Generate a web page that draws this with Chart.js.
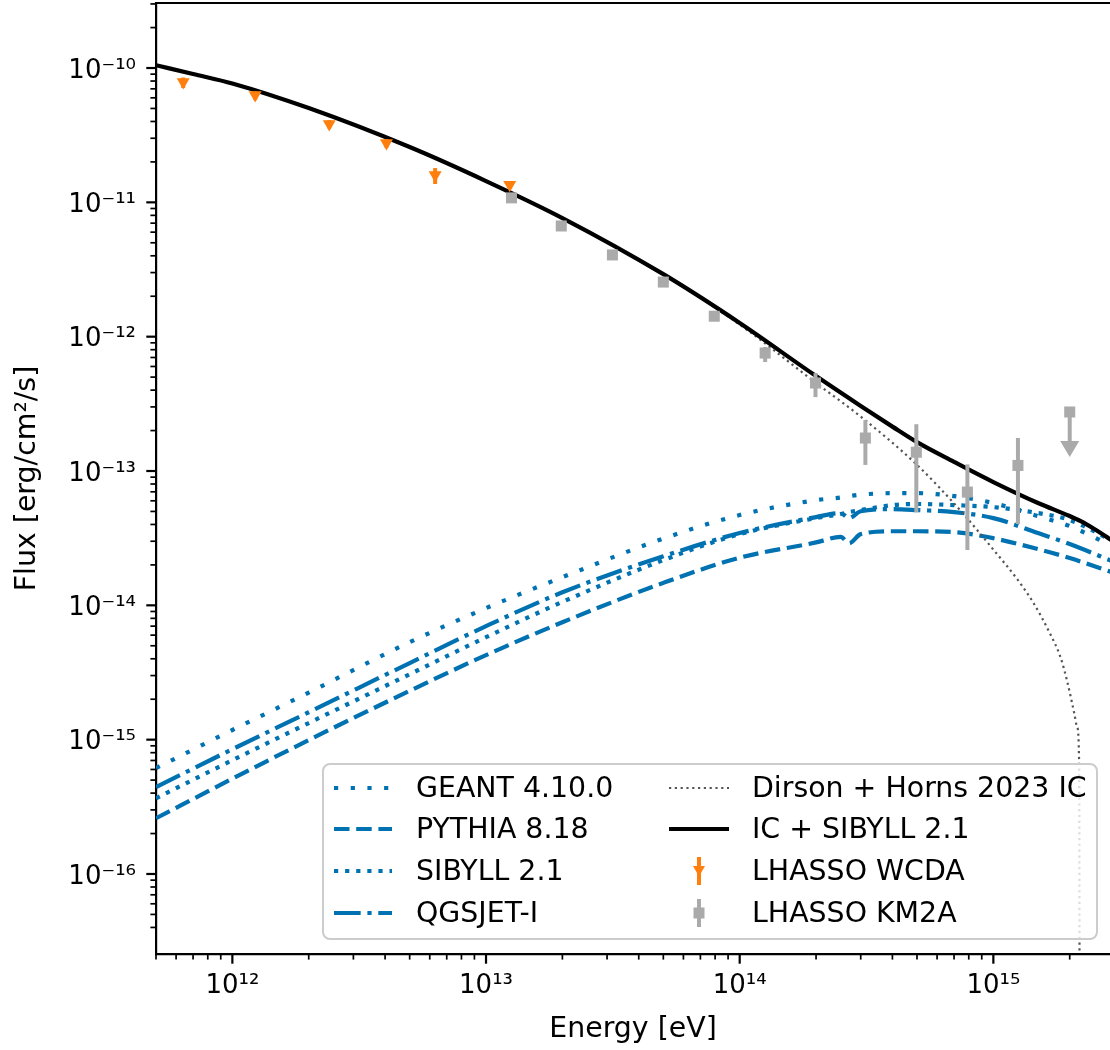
<!DOCTYPE html>
<html lang="en">
<head>
<meta charset="utf-8">
<title>Flux vs energy</title>
<script src="https://cdn.jsdelivr.net/npm/chart.js@4.4.1/dist/chart.umd.min.js"></script>
<style>
  html, body { margin: 0; padding: 0; background: #fff; }
  #wrap { position: relative; width: 1110px; height: 1050px; overflow: hidden; }
  #sedChart { display: block; }
  .legend {
    position: absolute; left: 322px; top: 763px; width: 776px; height: 177px;
    box-sizing: border-box; border: 2px solid #cccccc; border-radius: 8px;
    background: rgba(255, 255, 255, 0.8);
    font-family: 'DejaVu Sans', sans-serif; font-size: 28.4px; color: #000;
  }
  .legend svg { position: absolute; }
  .legend span { position: absolute; line-height: 32px; white-space: nowrap; }
</style>
</head>
<body>
<div id="wrap">
  <canvas id="sedChart" width="1110" height="1050"></canvas>
  <div class="legend">
    <svg style="left:10px;top:7px" width="58" height="32"><line x1="0" y1="16" x2="58" y2="16" stroke="#0072b2" stroke-width="4.2" stroke-dasharray="4.2 12.5"/></svg>
    <span style="left:92px;top:7px">GEANT 4.10.0</span>
    <svg style="left:10px;top:48px" width="58" height="32"><line x1="0" y1="16" x2="58" y2="16" stroke="#0072b2" stroke-width="4.2" stroke-dasharray="15.5 6.7"/></svg>
    <span style="left:92px;top:48px">PYTHIA 8.18</span>
    <svg style="left:10px;top:90px" width="58" height="32"><line x1="0" y1="16" x2="58" y2="16" stroke="#0072b2" stroke-width="4.2" stroke-dasharray="4.2 6.9"/></svg>
    <span style="left:92px;top:90px">SIBYLL 2.1</span>
    <svg style="left:10px;top:132px" width="58" height="32"><line x1="0" y1="16" x2="58" y2="16" stroke="#0072b2" stroke-width="4.2" stroke-dasharray="26.7 6.7 4.2 6.7"/></svg>
    <span style="left:92px;top:132px">QGSJET-I</span>

    <svg style="left:345px;top:7px" width="60" height="32"><line x1="0" y1="16" x2="60" y2="16" stroke="#555555" stroke-width="2.2" stroke-dasharray="2.2 3.6"/></svg>
    <span style="left:428px;top:7px">Dirson + Horns 2023 IC</span>
    <svg style="left:345px;top:48px" width="60" height="32"><line x1="0" y1="16" x2="60" y2="16" stroke="#000" stroke-width="4.2"/></svg>
    <span style="left:428px;top:48px">IC + SIBYLL 2.1</span>
    <svg style="left:345px;top:90px" width="60" height="32"><line x1="30" y1="2" x2="30" y2="30" stroke="#ff7f0e" stroke-width="4"/><polygon points="24,11 36,11 30,21.5" fill="#ff7f0e"/></svg>
    <span style="left:428px;top:90px">LHASSO WCDA</span>
    <svg style="left:345px;top:132px" width="60" height="32"><line x1="30" y1="2" x2="30" y2="30" stroke="#aaaaaa" stroke-width="4"/><rect x="24.5" y="10.5" width="11" height="11" fill="#aaaaaa"/></svg>
    <span style="left:428px;top:132px">LHASSO KM2A</span>
  </div>
</div>
<script>
// Values (energy in eV, flux in erg/cm^2/s)
const energyModel = [5e11, 1e12, 2e12, 5e12, 1e13, 2e13, 5e13, 1e14, 2e14, 2.5e14, 2.7e14, 3e14, 4e14, 5e14, 7e14, 1e15, 1.5e15, 2e15, 3e15];
const fluxGeant   = [6.14e-16, 1.18e-15, 2.24e-15, 5.32e-15, 9.53e-15, 1.62e-14, 3.14e-14, 4.70e-14, 6.07e-14, 6.35e-14, 6.50e-14, 6.67e-14, 6.84e-14, 6.84e-14, 6.50e-14, 5.77e-14, 4.61e-14, 3.89e-14, 2.71e-14];
const fluxPythia  = [2.60e-16, 5.12e-16, 9.93e-16, 2.31e-15, 4.26e-15, 7.48e-15, 1.47e-14, 2.26e-14, 2.94e-14, 3.23e-14, 2.90e-14, 3.39e-14, 3.56e-14, 3.56e-14, 3.51e-14, 3.16e-14, 2.62e-14, 2.25e-14, 1.74e-14];
const fluxSibyll  = [3.66e-16, 7.03e-16, 1.33e-15, 3.07e-15, 5.79e-15, 1.06e-14, 2.17e-14, 3.39e-14, 4.46e-14, 4.78e-14, 4.94e-14, 5.12e-14, 5.57e-14, 5.68e-14, 5.57e-14, 5.38e-14, 4.86e-14, 4.32e-14, 2.96e-14];
const fluxQgsjet  = [4.43e-16, 8.49e-16, 1.60e-15, 3.72e-15, 7.00e-15, 1.25e-14, 2.32e-14, 3.45e-14, 4.54e-14, 4.86e-14, 4.46e-14, 5.02e-14, 5.20e-14, 5.12e-14, 4.94e-14, 4.46e-14, 3.45e-14, 2.86e-14, 2.10e-14];

const energyTotal = [5e11, 7e11, 1e12, 2e12, 5e12, 1e13, 2e13, 5e13, 1e14, 2e14, 3e14, 4e14, 5e14, 7e14, 1e15, 1.5e15, 2e15, 2.2e15, 2.5e15, 3e15];
const fluxTotal   = [1.05e-10, 9.02e-11, 7.67e-11, 5.03e-11, 2.58e-11, 1.44e-11, 7.64e-12, 2.92e-12, 1.265e-12, 5.09e-13, 3.05e-13, 2.14e-13, 1.64e-13, 1.17e-13, 8.28e-14, 5.78e-14, 4.62e-14, 4.25e-14, 3.70e-14, 2.96e-14];

const energyIC = [5e11, 1e12, 2e12, 5e12, 1e13, 2e13, 5e13, 1e14, 2e14, 3e14, 5e14, 7.4e14, 1e15, 1.25e15, 1.44e15, 1.67e15, 1.84e15, 1.95e15, 2.08e15, 2.14e15, 2.18e15, 2.19e15];
const fluxIC   = [1.05e-10, 7.67e-11, 5.03e-11, 2.58e-11, 1.44e-11, 7.62e-12, 2.90e-12, 1.23e-12, 4.52e-13, 2.54e-13, 1.11e-13, 5.1e-14, 2.6e-14, 1.54e-14, 1.04e-14, 6.2e-15, 4.1e-15, 2.77e-15, 1.6e-15, 1.24e-15, 6.2e-16, 1e-18];

const wcdaE  = [6.4e11, 1.23e12, 2.41e12, 4.05e12, 6.3e12, 1.24e13];
const wcdaF  = [7.87e-11, 6.3e-11, 3.83e-11, 2.77e-11, 1.6e-11, 1.35e-11];
const wcdaLo = [7.1e-11, 5.8e-11, 3.55e-11, 2.55e-11, 1.37e-11, 1.27e-11];
const wcdaHi = [8.5e-11, 6.7e-11, 4.1e-11, 2.95e-11, 1.8e-11, 1.43e-11];

const km2aE  = [1.26e13, 1.98e13, 3.15e13, 5.0e13, 7.94e13, 1.26e14, 1.99e14, 3.13e14, 4.97e14, 7.9e14, 1.25e15];
const km2aF  = [1.08e-11, 6.67e-12, 4.06e-12, 2.55e-12, 1.42e-12, 7.55e-13, 4.52e-13, 1.76e-13, 1.38e-13, 6.97e-14, 1.1e-13];
const km2aLo = [1.03e-11, 6.4e-12, 3.9e-12, 2.45e-12, 1.36e-12, 6.47e-13, 3.55e-13, 1.11e-13, 4.94e-14, 2.58e-14, 4.03e-14];
const km2aHi = [1.13e-11, 6.95e-12, 4.22e-12, 2.66e-12, 1.49e-12, 8.37e-13, 5.36e-13, 2.39e-13, 2.23e-13, 1.12e-13, 1.76e-13];

// KM2A upper limit (arrow tip value)
const km2aUlE   = [2.0e15];
const km2aUlF   = [2.75e-13];
const km2aUlTip = [1.27e-13];

const xTickValues = [1e12, 1e13, 1e14, 1e15];
const xTickLabels = ['10¹²', '10¹³', '10¹⁴', '10¹⁵'];
const yTickValues = [1e-16, 1e-15, 1e-14, 1e-13, 1e-12, 1e-11, 1e-10];
const yTickLabels = ['10⁻¹⁶', '10⁻¹⁵', '10⁻¹⁴', '10⁻¹³', '10⁻¹²', '10⁻¹¹', '10⁻¹⁰'];

const BLUE = '#0072b2';

const pts = (xs, ys) => xs.map((x, i) => ({ x: x, y: ys[i] }));

function labelFor(values, labels) {
    return function(value) {
        const i = values.findIndex(v => Math.abs(Math.log10(value / v)) < 1e-6);
        return i >= 0 ? labels[i] : '';
    };
}

// fixed axis sizes, and no extra padding for the edge labels
function fixAxis(size) {
    return function(scale) {
        if (scale.isHorizontal()) scale.height = size;
        else scale.width = size;
        scale.paddingTop = scale.paddingBottom = scale.paddingLeft = scale.paddingRight = 0;
    };
}

// vertical error bars / upper-limit arrows, drawn just under the markers
const errorBars = {
    id: 'errorBars',
    beforeDatasetDraw(chart, args) {
        const ds = chart.data.datasets[args.index];
        if (!ds.errLow && !ds.ulTip) return;
        const { ctx, scales: { x, y } } = chart;
        ctx.save();
        ctx.strokeStyle = ds.backgroundColor;
        ctx.fillStyle = ds.backgroundColor;
        ctx.lineWidth = 4;
        ds.data.forEach((p, i) => {
            const px = x.getPixelForValue(p.x);
            if (ds.errLow) {
                ctx.beginPath();
                ctx.moveTo(px, y.getPixelForValue(ds.errLow[i]));
                ctx.lineTo(px, y.getPixelForValue(ds.errHigh[i]));
                ctx.stroke();
            }
            if (ds.ulTip) {
                const py = y.getPixelForValue(p.y);
                const tip = y.getPixelForValue(ds.ulTip[i]);
                ctx.beginPath();
                ctx.moveTo(px, py);
                ctx.lineTo(px, tip - 14);
                ctx.stroke();
                ctx.beginPath();
                ctx.moveTo(px - 9.5, tip - 16);
                ctx.lineTo(px + 9.5, tip - 16);
                ctx.lineTo(px, tip);
                ctx.closePath();
                ctx.fill();
            }
        });
        ctx.restore();
    }
};

// top spine plus outward major/minor tick marks
const axisMarks = {
    id: 'axisMarks',
    afterDraw(chart) {
        const { ctx, chartArea: area, scales } = chart;
        ctx.save();
        ctx.strokeStyle = '#000';
        ctx.lineWidth = 2.2;
        ctx.beginPath();
        ctx.moveTo(area.left - 1.1, area.top);
        ctx.lineTo(area.right, area.top);
        ctx.stroke();
        ['x', 'y'].forEach(id => {
            const scale = scales[id];
            scale.ticks.forEach(t => {
                const exp = Math.floor(Math.log10(t.value) + 1e-9);
                const mant = t.value / Math.pow(10, exp);
                if (Math.abs(mant - Math.round(mant)) > 1e-6) return;
                const major = Math.round(mant) === 1;
                const len = major ? 9.7 : 5.6;
                const p = scale.getPixelForValue(t.value);
                ctx.lineWidth = major ? 2.2 : 1.7;
                ctx.beginPath();
                if (id === 'x') {
                    ctx.moveTo(p, area.bottom);
                    ctx.lineTo(p, area.bottom + len);
                } else {
                    ctx.moveTo(area.left, p);
                    ctx.lineTo(area.left - len, p);
                }
                ctx.stroke();
            });
        });
        ctx.restore();
    }
};

Chart.defaults.font.family = "'DejaVu Sans', sans-serif";
Chart.defaults.color = '#000';

function modelLine(label, data, dash, order) {
    return {
        label: label,
        data: data,
        borderColor: BLUE,
        borderWidth: 4.2,
        borderDash: dash,
        borderCapStyle: 'butt',
        pointRadius: 0,
        fill: false,
        cubicInterpolationMode: 'monotone',
        order: order
    };
}

new Chart(document.getElementById('sedChart'), {
    type: 'line',
    data: {
        datasets: [
            modelLine('GEANT 4.10.0', pts(energyModel, fluxGeant), [4.2, 12.5], 10),
            modelLine('PYTHIA 8.18', pts(energyModel, fluxPythia), [15.5, 6.7], 10),
            modelLine('SIBYLL 2.1', pts(energyModel, fluxSibyll), [4.2, 6.9], 10),
            modelLine('QGSJET-I', pts(energyModel, fluxQgsjet), [26.7, 6.7, 4.2, 6.7], 10),
            {
                label: 'Dirson + Horns 2023 IC',
                data: pts(energyIC, fluxIC),
                borderColor: '#555555',
                borderWidth: 2.2,
                borderDash: [2.2, 3.6],
                pointRadius: 0,
                fill: false,
                cubicInterpolationMode: 'monotone',
                clip: 0,
                order: 8
            },
            {
                label: 'IC + SIBYLL 2.1',
                data: pts(energyTotal, fluxTotal),
                borderColor: '#000',
                borderWidth: 4.2,
                pointRadius: 0,
                fill: false,
                cubicInterpolationMode: 'monotone',
                order: 6
            },
            {
                type: 'scatter',
                label: 'LHASSO WCDA',
                data: pts(wcdaE, wcdaF),
                errLow: wcdaLo,
                errHigh: wcdaHi,
                backgroundColor: '#ff7f0e',
                borderColor: '#ff7f0e',
                borderWidth: 0,
                pointStyle: 'triangle',
                rotation: 180,
                pointRadius: 7.5,
                order: 3
            },
            {
                type: 'scatter',
                label: 'LHASSO KM2A',
                data: pts(km2aE, km2aF),
                errLow: km2aLo,
                errHigh: km2aHi,
                backgroundColor: '#aaaaaa',
                borderColor: '#aaaaaa',
                borderWidth: 0,
                pointStyle: 'rect',
                pointRadius: 7.8,
                order: 2
            },
            {
                type: 'scatter',
                label: 'LHASSO KM2A UL',
                data: pts(km2aUlE, km2aUlF),
                ulTip: km2aUlTip,
                backgroundColor: '#aaaaaa',
                borderColor: '#aaaaaa',
                borderWidth: 0,
                pointStyle: 'rect',
                pointRadius: 7.8,
                order: 1
            }
        ]
    },
    options: {
        responsive: false,
        animation: false,
        devicePixelRatio: 1,
        events: [],
        layout: {
            padding: { top: 3, right: 0, bottom: 0, left: 0 },
            autoPadding: false
        },
        plugins: {
            legend: { display: false },
            tooltip: { enabled: false }
        },
        scales: {
            x: {
                type: 'logarithmic',
                position: 'bottom',
                min: 5e11,
                max: 2.883e15,
                grid: { display: false, drawTicks: false },
                border: { display: true, color: '#000', width: 2.2 },
                ticks: {
                    font: { size: 26 },
                    color: '#000',
                    padding: 17,
                    autoSkip: false,
                    maxRotation: 0,
                    minRotation: 0,
                    callback: labelFor(xTickValues, xTickLabels)
                },
                title: {
                    display: true,
                    text: 'Energy [eV]',
                    font: { size: 28.4 },
                    color: '#000',
                    padding: { top: 0, bottom: 3 }
                },
                afterFit: fixAxis(96)
            },
            y: {
                type: 'logarithmic',
                position: 'left',
                min: 2.537e-17,
                max: 3.048e-10,
                grid: { display: false, drawTicks: false },
                border: { display: true, color: '#000', width: 2.2 },
                ticks: {
                    font: { size: 26 },
                    color: '#000',
                    padding: 20,
                    labelOffset: 3,
                    autoSkip: false,
                    callback: labelFor(yTickValues, yTickLabels)
                },
                title: {
                    display: true,
                    text: 'Flux [erg/cm²/s]',
                    font: { size: 28.4 },
                    color: '#000',
                    padding: { top: 11, bottom: 0 }
                },
                afterFit: fixAxis(156)
            }
        }
    },
    plugins: [errorBars, axisMarks]
});
</script>
</body>
</html>
